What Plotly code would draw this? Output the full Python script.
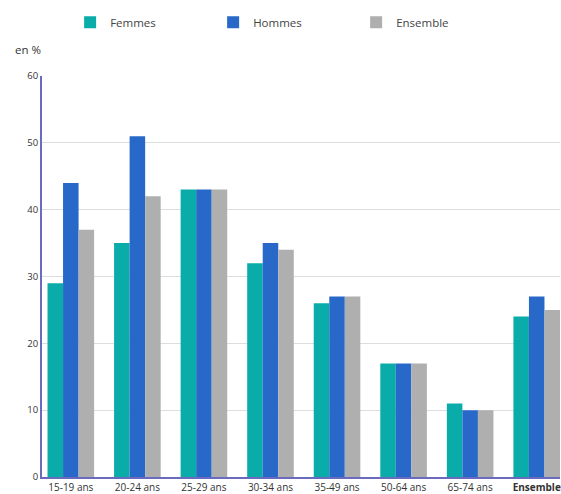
import plotly.graph_objects as go

categories = ["15-19 ans", "20-24 ans", "25-29 ans", "30-34 ans", "35-49 ans", "50-64 ans", "65-74 ans", "Ensemble"]
tick_labels = ["15-19 ans", "20-24 ans", "25-29 ans", "30-34 ans", "35-49 ans", "50-64 ans", "65-74 ans", "<b>Ensemble</b>"]
femmes = [29, 35, 43, 32, 26, 17, 11, 24]
hommes = [44, 51, 43, 35, 27, 17, 10, 27]
ensemble = [37, 42, 43, 34, 27, 17, 10, 25]

font = "Open Sans, Segoe UI, sans-serif"
fig = go.Figure()
fig.add_bar(x=categories, y=femmes, name="Femmes", marker_color="#0AACA9", marker_line_width=0)
fig.add_bar(x=categories, y=hommes, name="Hommes", marker_color="#2868C8", marker_line_width=0)
fig.add_bar(x=categories, y=ensemble, name="Ensemble", marker_color="#AFAFAF", marker_line_width=0)

fig.update_layout(
    width=561, height=494,
    margin=dict(l=42, r=1, t=76, b=17, autoexpand=False),
    paper_bgcolor="white", plot_bgcolor="white",
    barmode="group", bargap=0.30, bargroupgap=0,
    font=dict(family=font, size=10, color="#333333"),
    showlegend=True,
    legend=dict(orientation="h", xref="container", x=0.125, xanchor="left",
                yref="container", y=0.955, yanchor="middle",
                font=dict(size=11.5, color="#444444"),
                itemwidth=30, entrywidth=98, entrywidthmode="pixels"),
    xaxis=dict(tickmode="array", tickvals=categories, ticktext=tick_labels,
               range=[-0.433, 7.35],
               showline=True, linecolor="#6A6ABF", linewidth=2, ticks="",
               automargin=False, tickfont=dict(size=10, color="#333333")),
    yaxis=dict(range=[0, 60], dtick=10, showgrid=True, gridcolor="#DDDDDD",
               showline=True, linecolor="#6A6ABF", linewidth=2, zeroline=False,
               automargin=False, ticks="", tickfont=dict(size=9.5, color="#333333")),
    annotations=[dict(text="en %", xref="paper", yref="paper", x=-0.056, y=1.067,
                      xanchor="left", yanchor="middle", showarrow=False,
                      font=dict(size=11.5, color="#333333"))],
)
fig.write_html("out.html", config={"displayModeBar": False},
               post_script="document.body.style.margin='0';document.body.style.overflow='hidden';")
